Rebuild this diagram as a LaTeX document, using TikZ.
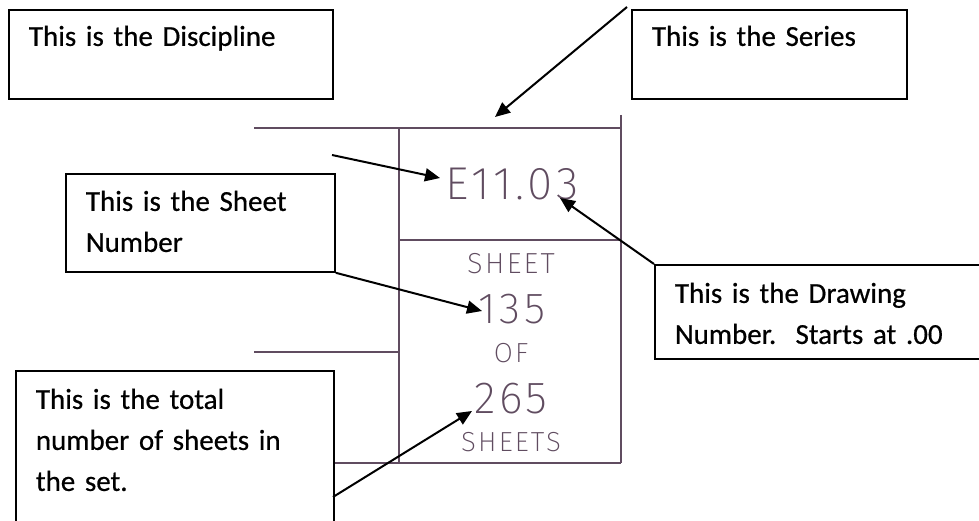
\documentclass[tikz,border=0pt]{standalone}
\usepackage{fontspec}
\setmainfont{Carlito}[FakeBold=0.5, WordSpace=0.85]
\newfontfamily\cadfont[LetterSpace=8]{Fira Sans ExtraLight}
\usetikzlibrary{arrows.meta,calc}
\definecolor{tbline}{RGB}{96,76,96}

\begin{document}
\begin{tikzpicture}[x=1pt,y=-1pt,
  callout/.style={draw=black, line width=1.8pt, fill=white, inner xsep=20pt,
    inner ysep=0pt, anchor=north west, align=left,
    font=\fontsize{29}{41}\selectfont},
  ptr/.style={line width=2pt, -{Triangle[length=15pt,width=13pt]}},
  tb/.style={draw=tbline, line width=1.4pt},
  cad/.style={text=tbline, inner sep=0pt, anchor=base}]

\useasboundingbox (0,0) rectangle (979,521);

% title block frame
\draw[tb] (254,128) -- (621,128);
\draw[tb] (621,115) -- (621,463);
\draw[tb] (399,128) -- (399,463);
\draw[tb] (399,240) -- (621,240);
\draw[tb] (254,352) -- (399,352);
\draw[tb] (254,463) -- (621,463);

% title block entries
\node[cad, font=\cadfont\fontsize{46}{46}\selectfont] (dwg) at (512,200) {E11.03};
\node[cad, font=\cadfont\fontsize{29}{29}\selectfont] (sheetlbl) at (511,273) {SHEET};
\node[cad, font=\cadfont\fontsize{43.5}{43.5}\selectfont] (num) at (512,323) {135};
\node[cad, font=\cadfont\fontsize{27.6}{27.6}\selectfont] (of) at (511,362) {OF};
\node[cad, font=\cadfont\fontsize{45}{45}\selectfont] (total) at (511,413) {265};
\node[cad, font=\cadfont\fontsize{27.6}{27.6}\selectfont] (sheetslbl) at (511,451) {SHEETS};

% explanatory callouts
\node[callout, text width=284pt, text height=36pt, text depth=53pt] (disc) at (8,9)
  {This is the Discipline};
\node[callout, text width=235pt, text height=36pt, text depth=53pt] (series) at (631,9)
  {This is the Series};
\node[callout, text width=229pt, text height=37pt, text depth=61pt] (sheetbox) at (65,173)
  {This is the Sheet\\Number};
\node[callout, text width=296pt, text height=38pt, text depth=56pt] (drawbox) at (654,264)
  {This is the Drawing\\Number.\ \ Starts at .00};
\node[callout, text width=278pt, text height=38pt, text depth=117pt] (totalbox) at (15,370)
  {This is the total\\number of sheets in\\the set.};

% pointer ends
\coordinate (seriesfrom) at (627,7);
\coordinate (seriesto) at (495,117);
\coordinate (discfrom) at (332,155);
\coordinate (discto) at (440,178);
\coordinate (drawto) at (560,198);
\coordinate (numto) at (482,311);
\coordinate (totalfrom) at (333,497);
\coordinate (totalto) at (472,411);

% pointers
\draw[ptr] (seriesfrom) -- (seriesto);
\draw[ptr] (discfrom) -- (discto);
\draw[ptr] (drawbox.north west) -- (drawto);
\draw[ptr] (sheetbox.south east) -- (numto);
\draw[ptr] (totalfrom) -- (totalto);
\end{tikzpicture}
\end{document}
